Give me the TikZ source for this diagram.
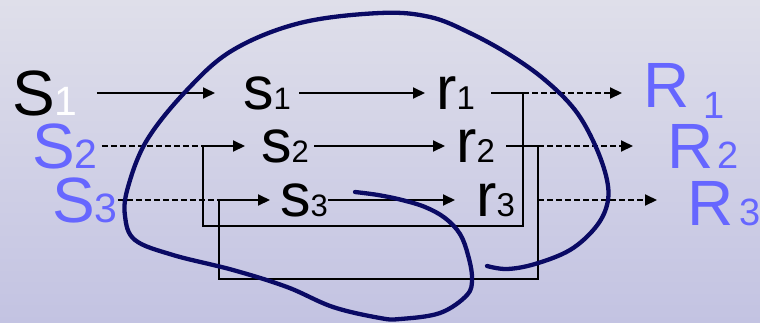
\documentclass[tikz,border=0pt]{standalone}
\usepackage{fontspec}
\setmainfont{Liberation Sans}
\usetikzlibrary{arrows.meta, positioning, calc}
\definecolor{SlideTop}{RGB}{223,223,234}
\definecolor{SlideBot}{RGB}{195,195,226}
\definecolor{SigBlue}{RGB}{102,102,255}
\definecolor{LoopBlue}{RGB}{10,10,100}
\newcommand{\subnum}[2][34]{{\fontsize{#1}{#1}\selectfont #2}}
\tikzset{
  >=latex,
  % etichette
  sig/.style={inner sep=0pt, anchor=west, font=\fontsize{64}{64}\selectfont},
  sig in/.style={sig, SigBlue},
  unit/.style={inner sep=0pt, anchor=west, font=\fontsize{61}{61}\selectfont},
  % connessioni
  connect/.style={line width=2pt},
  connect arrow/.style={connect, -{Triangle[length=12pt,width=11pt]}},
  dashed connect/.style={connect, dash pattern=on 6pt off 3pt},
  dashed arrow/.style={connect arrow, dash pattern=on 6pt off 3pt},
  brain/.style={LoopBlue, line width=4.3pt, line cap=round, line join=round}
}

\begin{document}
\begin{tikzpicture}[x=1pt, y=-1pt]
    \shade[top color=SlideTop, bottom color=SlideBot] (0,0) rectangle (760,322);
    \useasboundingbox (0,0) rectangle (760,322);
    % ingressi
    \node[sig] (S1) at (12,93) {S{\color{white}\subnum[41]{1}}};
    \node[sig in] (S2) at (32,146) {S\subnum[41]{2}};
    \node[sig in] (S3) at (52,200) {S\subnum[41]{3}};
    % unita
    \node[unit] (s1) at (243,93) {s\subnum[31]{1}};
    \node[unit] (s2) at (261,146) {s\subnum[31]{2}};
    \node[unit] (s3) at (280,200) {s\subnum[31]{3}};
    \node[unit] (r1) at (436,93) {r\subnum[33]{1}};
    \node[unit] (r2) at (456,146) {r\subnum[33]{2}};
    \node[unit] (r3) at (476,200) {r\subnum[33]{3}};
    % uscite
    \node[sig in, anchor=base west] (R1) at (643,107) {R\hspace{14pt}\raisebox{-11pt}{\subnum[38]{1}}};
    \node[sig in, anchor=base west] (R2) at (667,168) {R\hspace{4pt}\subnum[38]{2}};
    \node[sig in, anchor=base west] (R3) at (687,225) {R\hspace{6pt}\subnum[38]{3}};
    % punti di ritorno
    \coordinate (k1) at (523,93);
    \coordinate (k2) at (538,146);
    \coordinate (f1) at (203,226);
    \coordinate (f2) at (219,279);
    \coordinate (k3) at ($(r3.east)+(23pt,0)$);
    % riga 1
    \draw[connect arrow] ([xshift=19pt]S1.east) -- ([xshift=-28pt]s1.west);
    \draw[connect arrow] ([xshift=8pt]s1.east) -- ([xshift=-11pt]r1.west);
    \draw[connect] ([xshift=16pt]r1.east) -- (k1);
    \draw[dashed arrow, shorten >=21pt] (k1) -- (k1 -| R1.west);
    \draw[connect arrow] (k1) |- (f1) |- ([xshift=-16pt]s2.west);
    % riga 2
    \draw[dashed connect] ([xshift=4pt]S2.east) -- (f1 |- s2.west);
    \draw[connect arrow] ([xshift=5pt]s2.east) -- ([xshift=-11pt]r2.west);
    \draw[connect] ([xshift=11pt]r2.east) -- (k2);
    \draw[dashed arrow, shorten >=34pt] (k2) -- (k2 -| R2.west);
    \draw[connect arrow] (k2) |- (f2) |- ([xshift=-10pt]s3.west);
    % riga 3
    \draw[dashed connect] (S3.east) -- (f2 |- s3.west);
    \draw[connect arrow] (s3.east) -- ([xshift=-21pt]r3.west);
    \draw[dashed arrow, shorten >=30pt] (k3) -- (k3 -| R3.west);
    % anello
    \draw[brain] plot[smooth, tension=0.6] coordinates {
      (355,192) (378,195) (402,200) (425,207) (445,218) (460,234) (468,255)
      (472,278) (467,295) (440,313) (400,319) (380,318) (333,307) (287,287)
      (233,270) (173,255) (135,240) (125,216) (128,187) (147,140) (187,90)
      (233,50) (300,23) (380,13) (430,17) (470,33) (510,55) (545,80)
      (575,110) (595,145) (607,180) (607,205) (595,228) (570,250) (535,264)
      (507,269) (487,266)};
\end{tikzpicture}
\end{document}
